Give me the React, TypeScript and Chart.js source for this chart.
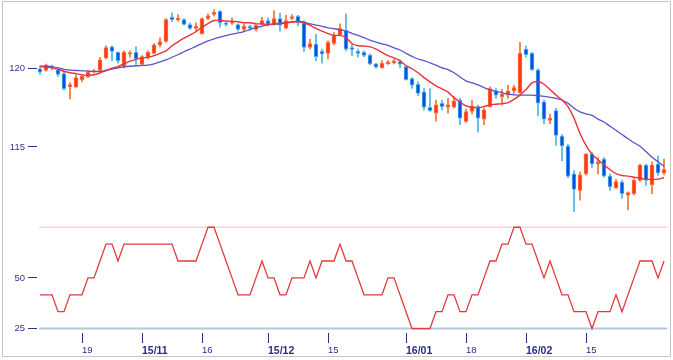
import React, { useEffect, useRef } from 'react';
import { Chart, registerables } from 'chart.js';

Chart.register(...registerables);

// Trading days (USD/JPY daily), 2015/10/08 - 2016/03/03
const dates = [
  '15/10/08','15/10/09','15/10/12','15/10/13','15/10/14','15/10/15','15/10/16',
  '15/10/19','15/10/20','15/10/21','15/10/22','15/10/23',
  '15/10/26','15/10/27','15/10/28','15/10/29','15/10/30',
  '15/11/02','15/11/03','15/11/04','15/11/05','15/11/06',
  '15/11/09','15/11/10','15/11/11','15/11/12','15/11/13',
  '15/11/16','15/11/17','15/11/18','15/11/19','15/11/20',
  '15/11/23','15/11/24','15/11/25','15/11/26','15/11/27','15/11/30',
  '15/12/01','15/12/02','15/12/03','15/12/04',
  '15/12/07','15/12/08','15/12/09','15/12/10','15/12/11','15/12/14',
  '15/12/15','15/12/16','15/12/17','15/12/18',
  '15/12/21','15/12/22','15/12/23','15/12/24','15/12/25',
  '15/12/28','15/12/29','15/12/30','15/12/31',
  '16/01/04','16/01/05','16/01/06','16/01/07','16/01/08',
  '16/01/11','16/01/12','16/01/13','16/01/14','16/01/15',
  '16/01/18','16/01/19','16/01/20','16/01/21','16/01/22',
  '16/01/25','16/01/26','16/01/27','16/01/28','16/01/29',
  '16/02/01','16/02/02','16/02/03','16/02/04','16/02/05',
  '16/02/08','16/02/09','16/02/10','16/02/11','16/02/12',
  '16/02/15','16/02/16','16/02/17','16/02/18','16/02/19',
  '16/02/22','16/02/23','16/02/24','16/02/25','16/02/26','16/02/29',
  '16/03/01','16/03/02','16/03/03',
];

const openP = [
  119.96,119.85,120.10,119.90,119.65,118.81,118.80,119.27,119.44,119.75,
  119.85,120.65,121.35,121.00,120.06,120.90,121.00,120.23,120.69,120.94,
  121.48,121.69,123.23,123.08,123.08,122.77,122.52,122.19,123.15,123.40,
  123.60,122.85,122.85,122.77,122.46,122.65,122.46,122.77,123.02,122.77,
  123.15,122.54,123.15,123.29,122.85,121.31,121.52,121.06,120.94,121.56,
  122.10,122.40,121.31,121.06,121.00,120.83,120.27,120.02,120.29,120.33,
  120.42,120.10,119.33,118.98,118.50,117.52,117.15,117.77,117.52,117.52,
  117.98,116.62,117.25,117.56,116.77,117.56,118.56,118.19,118.29,118.56,
  118.44,121.21,120.94,119.90,117.87,116.69,117.31,115.69,115.06,113.29,
  112.25,113.29,114.54,113.92,114.23,113.15,112.40,112.77,111.94,112.04,
  112.88,113.85,112.60,113.92,113.35,
];
const highP = [
  120.15,120.25,120.20,119.96,119.75,119.08,119.58,119.58,119.85,119.92,
  120.69,121.42,121.42,121.04,121.10,121.10,121.35,120.79,121.10,121.56,
  121.94,123.15,123.50,123.40,123.15,122.85,122.88,123.19,123.44,123.71,
  123.65,122.94,123.19,122.81,122.81,122.73,122.77,123.23,123.19,123.65,
  123.50,123.35,123.40,123.35,123.02,121.83,122.15,121.21,121.73,122.25,
  122.81,123.44,121.52,121.21,121.10,120.90,120.31,120.48,120.48,120.58,
  120.52,120.17,119.40,119.13,118.71,118.71,117.98,117.98,118.08,118.19,
  118.08,117.40,117.98,117.65,117.46,118.81,118.71,118.64,118.91,118.91,
  121.63,121.41,121.00,119.96,117.98,117.08,117.45,115.79,115.17,113.50,
  113.40,114.60,114.65,114.33,114.33,113.29,112.94,112.88,112.15,112.98,
  113.92,113.92,114.06,114.44,114.23,
];
const lowP = [
  119.60,119.80,119.90,119.48,118.60,118.04,118.77,119.13,119.40,119.69,
  119.75,120.58,120.48,120.31,120.02,120.69,120.23,120.17,120.58,120.90,
  121.35,121.63,122.94,122.98,122.73,122.46,122.35,122.15,123.08,123.29,
  122.60,122.67,122.77,122.35,122.35,122.40,122.35,122.73,122.67,122.73,
  122.35,122.48,123.08,122.67,121.06,121.21,120.48,120.31,120.58,121.48,
  122.04,121.10,120.79,120.69,120.73,120.21,120.00,120.00,120.23,120.27,
  120.02,119.23,118.71,118.23,117.35,117.25,116.63,117.35,117.15,117.46,
  116.42,116.56,117.10,115.94,116.41,117.52,118.08,117.66,118.08,118.40,
  118.40,120.69,119.85,116.98,116.48,116.48,115.10,114.13,113.06,110.90,
  111.63,113.23,113.71,113.29,113.08,112.25,112.35,111.73,111.00,111.94,
  112.81,112.56,112.04,113.19,113.23,
];
const closeP = [
  119.75,120.20,120.02,119.60,118.70,118.96,119.40,119.48,119.75,119.83,
  120.52,121.31,121.06,120.48,121.00,120.98,120.58,120.73,121.00,121.48,
  121.69,123.08,123.08,123.17,122.77,122.52,122.65,123.15,123.31,123.54,
  122.88,122.77,122.96,122.46,122.65,122.54,122.71,123.02,122.81,123.15,
  122.73,123.02,123.27,122.88,121.31,121.56,120.73,120.90,121.63,122.10,
  122.52,121.21,121.19,120.94,120.81,120.27,120.06,120.31,120.38,120.44,
  120.25,119.27,118.92,118.40,117.52,117.31,117.67,117.56,117.67,117.92,
  116.83,117.25,117.60,116.83,117.35,118.71,118.29,118.35,118.56,118.77,
  120.94,120.85,119.90,117.77,116.77,116.83,115.73,115.06,113.15,112.31,
  113.23,114.54,113.92,114.06,113.15,112.46,112.81,112.04,112.10,112.88,
  113.85,112.88,113.85,113.35,113.56,
];

const maShort = [
  120.10,120.06,120.02,119.92,119.80,119.71,119.65,119.58,119.54,119.58,
  119.69,119.85,120.00,120.10,120.27,120.44,120.56,120.65,120.69,120.79,
  120.94,121.10,121.42,121.67,121.90,122.10,122.31,122.60,122.83,123.02,
  123.04,122.98,122.98,122.94,122.88,122.88,122.81,122.81,122.77,122.81,
  122.85,122.88,122.92,122.94,122.88,122.71,122.52,122.35,122.19,122.08,
  122.08,121.94,121.56,121.42,121.40,121.35,121.21,121.00,120.79,120.65,
  120.48,120.17,119.96,119.71,119.40,119.13,118.88,118.68,118.48,118.13,
  117.85,117.60,117.52,117.50,117.56,117.67,117.71,117.75,117.81,118.02,
  118.29,118.65,119.06,119.15,118.98,118.65,118.29,117.98,117.56,116.83,
  115.85,115.10,114.54,114.19,113.87,113.56,113.31,113.19,113.15,113.08,
  113.02,112.96,112.94,112.96,113.06,
];
const maLong = [
  120.12,120.12,120.10,120.02,119.92,119.88,119.85,119.83,119.81,119.79,
  119.79,119.85,119.94,120.02,120.08,120.12,120.15,120.17,120.19,120.27,
  120.40,120.52,120.69,120.85,121.04,121.21,121.38,121.56,121.73,121.85,
  121.96,122.06,122.15,122.23,122.31,122.46,122.56,122.67,122.75,122.79,
  122.81,122.88,122.94,122.98,122.92,122.81,122.73,122.65,122.56,122.50,
  122.44,122.35,122.21,122.08,121.94,121.77,121.65,121.54,121.44,121.29,
  121.15,120.94,120.75,120.58,120.48,120.33,120.19,120.02,119.90,119.71,
  119.44,119.19,119.06,118.94,118.77,118.63,118.52,118.44,118.35,118.31,
  118.29,118.29,118.29,118.25,118.21,118.15,118.08,117.98,117.77,117.46,
  117.23,117.10,117.00,116.77,116.58,116.31,116.06,115.79,115.52,115.27,
  115.04,114.71,114.35,114.06,113.77,
];

const psy = [
  41.67,41.67,41.67,33.33,33.33,41.67,41.67,41.67,50,50,
  58.33,66.67,66.67,58.33,66.67,66.67,66.67,66.67,66.67,66.67,
  66.67,66.67,66.67,58.33,58.33,58.33,58.33,66.67,75,75,
  66.67,58.33,50,41.67,41.67,41.67,50,58.33,50,50,
  41.67,41.67,50,50,50,58.33,50,58.33,58.33,58.33,
  66.67,58.33,58.33,50,41.67,41.67,41.67,41.67,50,50,
  41.67,33.33,25,25,25,25,33.33,33.33,41.67,41.67,
  33.33,33.33,41.67,41.67,50,58.33,58.33,66.67,66.67,75,
  75,66.67,66.67,58.33,50,58.33,50,41.67,41.67,33.33,
  33.33,33.33,25,33.33,33.33,33.33,41.67,33.33,41.67,50,
  58.33,58.33,58.33,50,58.33,
];

const xTickIndex = [7, 17, 27, 38, 48, 61, 71, 81, 91];
const xTickLabels = ['19', '15/11', '16', '15/12', '15', '16/01', '18', '16/02', '15'];
const priceTicks = [115, 120];
const oscTicks = [25, 50];
const oscLevels = [75, 25];

const FONT = 'Liberation Sans, Arial, sans-serif';
const UP_BODY = '#ff3a10';
const UP_EDGE = '#ff7044';
const UP_WICK = '#ec7434';
const DN_BODY = '#0a4ee6';
const DN_EDGE = '#48b6e4';
const DN_WICK = '#4cb4e2';

const decorPlugin = {
  id: 'decor',
  beforeDatasetsDraw(chart: any) {
    const { ctx, chartArea, scales } = chart;
    const ys = scales.y2;
    const styles = [
      { color: '#f7d3da', width: 1.5 },
      { color: '#b6c7dc', width: 2 },
    ];
    ctx.save();
    oscLevels.forEach((v, i) => {
      const y = ys.getPixelForValue(v);
      ctx.strokeStyle = styles[i].color;
      ctx.lineWidth = styles[i].width;
      ctx.beginPath();
      ctx.moveTo(chartArea.left + 2, y);
      ctx.lineTo(chartArea.right, y);
      ctx.stroke();
    });
    ctx.restore();
  },
  afterDraw(chart: any) {
    const { ctx } = chart;
    ctx.save();
    ctx.strokeStyle = '#c6c6c6';
    ctx.lineWidth = 1;
    ctx.strokeRect(2.5, 1.5, 668, 355);
    ctx.restore();
  },
};

export default function App() {
  const ref = useRef<HTMLCanvasElement | null>(null);

  useEffect(() => {
    if (!ref.current) return;
    const isUp = (i: number) => closeP[i] >= openP[i];
    const bodies = openP.map((o, i) => [o, closeP[i]]);
    const wicks = lowP.map((l, i) => [l, highP[i]]);
    const chart = new Chart(ref.current, {
      type: 'bar',
      data: {
        labels: dates,
        datasets: [
          {
            type: 'line',
            label: 'MA short',
            data: maShort,
            yAxisID: 'y',
            borderColor: '#e8333a',
            borderWidth: 1.4,
            pointRadius: 0,
            tension: 0.3,
            order: 0,
          } as any,
          {
            type: 'line',
            label: 'MA long',
            data: maLong,
            yAxisID: 'y',
            borderColor: '#5a55c4',
            borderWidth: 1.3,
            pointRadius: 0,
            tension: 0.3,
            order: 1,
          } as any,
          {
            type: 'bar',
            label: 'body',
            data: bodies as any,
            yAxisID: 'y',
            backgroundColor: openP.map((_, i) => (isUp(i) ? UP_BODY : DN_BODY)),
            borderColor: openP.map((_, i) => (isUp(i) ? UP_EDGE : DN_EDGE)),
            borderWidth: 1,
            borderSkipped: false,
            barThickness: 4,
            grouped: false,
            order: 2,
          } as any,
          {
            type: 'bar',
            label: 'wick',
            data: wicks as any,
            yAxisID: 'y',
            backgroundColor: openP.map((_, i) => (isUp(i) ? UP_WICK : DN_WICK)),
            borderWidth: 0,
            barThickness: 1,
            grouped: false,
            order: 3,
          } as any,
          {
            type: 'line',
            label: 'Psychological',
            data: psy,
            yAxisID: 'y2',
            borderColor: '#e23a3a',
            borderWidth: 1.3,
            pointRadius: 0,
            tension: 0,
            order: 0,
          } as any,
        ],
      },
      options: {
        responsive: false,
        animation: false,
        devicePixelRatio: 1,
        layout: { padding: { top: 4, right: 6, bottom: 0, left: 0 } },
        plugins: { legend: { display: false }, tooltip: { enabled: false } },
        scales: {
          x: {
            type: 'category',
            offset: true,
            grid: {
              offset: false,
              drawOnChartArea: false,
              drawTicks: true,
              tickLength: 10,
              tickColor: '#2e2e88',
              tickWidth: 1,
            },
            border: { display: false },
            afterBuildTicks: (s: any) => {
              s.ticks = xTickIndex.map((v) => ({ value: v }));
            },
            afterFit: (s: any) => {
              s.height = 27;
            },
            ticks: {
              autoSkip: false,
              maxRotation: 0,
              minRotation: 0,
              align: 'start',
              padding: 1.5,
              color: '#2a2a8e',
              callback: (_v: any, i: number) => xTickLabels[i],
              font: (c: any) => {
                const bold = !!xTickLabels[c.index] && xTickLabels[c.index].includes('/');
                return { family: FONT, size: bold ? 10.5 : 9.5, weight: bold ? 'bold' : 'normal' };
              },
            },
          },
          // left boxes are placed in reverse order: the oscillator is listed first so it ends up below
          y2: {
            type: 'linear',
            position: 'left',
            stack: 'panels',
            stackWeight: 115,
            min: 22.81,
            max: 78.75,
            grid: { drawOnChartArea: false, tickLength: 9, tickColor: '#2e2e88' },
            border: { display: false },
            afterBuildTicks: (s: any) => {
              s.ticks = oscTicks.map((v) => ({ value: v }));
            },
            afterFit: (s: any) => {
              s.width = 37;
            },
            ticks: {
              padding: 3,
              color: '#34348e',
              font: { family: FONT, size: 9.5 },
              callback: (v: any) => String(v),
            },
          },
          y: {
            type: 'linear',
            position: 'left',
            stack: 'panels',
            stackWeight: 214,
            min: 110.39,
            max: 123.77,
            grid: { drawOnChartArea: false, tickLength: 9, tickColor: '#2e2e88' },
            border: { display: false },
            afterBuildTicks: (s: any) => {
              s.ticks = priceTicks.map((v) => ({ value: v }));
            },
            afterFit: (s: any) => {
              s.width = 37;
            },
            ticks: {
              padding: 3,
              color: '#34348e',
              font: { family: FONT, size: 9.5 },
              callback: (v: any) => String(v),
            },
          },
        },
      } as any,
      plugins: [decorPlugin],
    });
    return () => chart.destroy();
  }, []);

  return (
    <div style={{ position: 'absolute', left: 0, top: 0, width: 673, height: 360, background: '#fff' }}>
      <canvas ref={ref} width={673} height={360} style={{ display: 'block' }} />
    </div>
  );
}
